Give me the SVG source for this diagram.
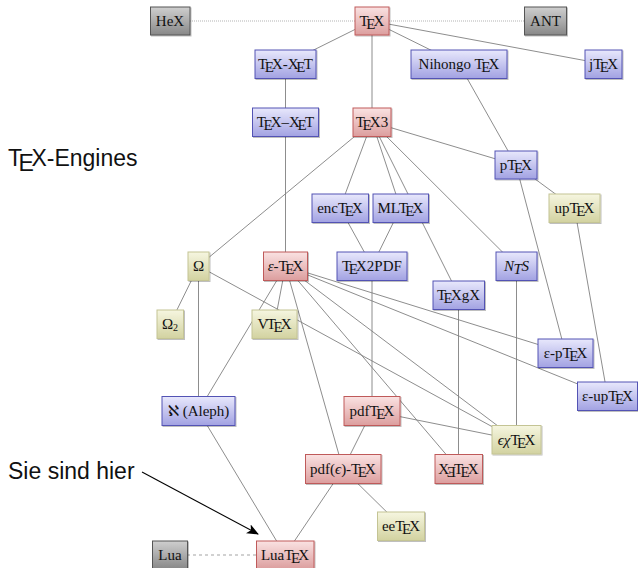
<svg xmlns="http://www.w3.org/2000/svg" width="638" height="568" viewBox="0 0 638 568">
<defs>
<linearGradient id="gr" x1="0" y1="0" x2="0" y2="1"><stop offset="0" stop-color="#fae2e2"/><stop offset="1" stop-color="#dc9e9e"/></linearGradient>
<linearGradient id="gb" x1="0" y1="0" x2="0" y2="1"><stop offset="0" stop-color="#e8e8fc"/><stop offset="1" stop-color="#a2a2e2"/></linearGradient>
<linearGradient id="gy" x1="0" y1="0" x2="0" y2="1"><stop offset="0" stop-color="#f6f6e0"/><stop offset="1" stop-color="#d2d2a0"/></linearGradient>
<linearGradient id="gg" x1="0" y1="0" x2="0" y2="1"><stop offset="0" stop-color="#cfcfcf"/><stop offset="1" stop-color="#888888"/></linearGradient>
<filter id="sh" x="-20%" y="-20%" width="140%" height="150%"><feDropShadow dx="1" dy="1" stdDeviation="0.7" flood-color="#000" flood-opacity="0.25"/></filter>
<marker id="ah" markerWidth="12" markerHeight="10" refX="11" refY="5" orient="auto" markerUnits="userSpaceOnUse"><path d="M0,0 L12,5 L0,10 L3,5 z" fill="#000"/></marker>
</defs>
<style>
.e line{stroke:#808080;stroke-width:0.9}
.e .dot{stroke:#aaaaaa;stroke-dasharray:1 1}
.e .dash{stroke:#999999;stroke-dasharray:3 3}
g.n rect{stroke-width:1;filter:url(#sh)}
g.r rect{fill:url(#gr);stroke:#bf5a5a}
g.b rect{fill:url(#gb);stroke:#5252b4}
g.y rect{fill:url(#gy);stroke:#c4c494}
g.k rect{fill:url(#gg);stroke:#555555}
g.n text{font-family:"Liberation Serif","DejaVu Serif","DejaVu Sans",serif;font-size:15px;text-anchor:middle;fill:#111}
.lbl{font-family:"Liberation Sans","DejaVu Sans",sans-serif;font-size:23px;fill:#111}
</style>
<rect width="638" height="568" fill="#fff"/>
<g class="e" id="connectors">
<line class="dot" x1="190" y1="21" x2="355" y2="21"/>
<line class="dot" x1="389" y1="21" x2="524" y2="21"/>
<line class="dash" x1="187" y1="555" x2="257" y2="555"/>
<line x1="372" y1="21" x2="285.5" y2="64"/>
<line x1="372" y1="21" x2="372" y2="122"/>
<line x1="372" y1="21" x2="459" y2="64"/>
<line x1="372" y1="21" x2="603.5" y2="64"/>
<line x1="285.5" y1="64" x2="285.5" y2="122"/>
<line x1="285.5" y1="122" x2="285.5" y2="266"/>
<line x1="459" y1="64" x2="516" y2="165"/>
<line x1="372" y1="122" x2="516" y2="165"/>
<line x1="372" y1="122" x2="340" y2="208"/>
<line x1="372" y1="122" x2="400.5" y2="208"/>
<line x1="372" y1="122" x2="458.5" y2="295"/>
<line x1="372" y1="122" x2="516.5" y2="266"/>
<line x1="372" y1="122" x2="198.5" y2="266"/>
<line x1="516" y1="165" x2="574.5" y2="208"/>
<line x1="516" y1="165" x2="565.5" y2="353"/>
<line x1="574.5" y1="208" x2="607.5" y2="396"/>
<line x1="340" y1="208" x2="372" y2="266"/>
<line x1="400.5" y1="208" x2="372" y2="266"/>
<line x1="372" y1="266" x2="372" y2="411"/>
<line x1="516.5" y1="266" x2="516.5" y2="440"/>
<line x1="458.5" y1="295" x2="458.5" y2="469"/>
<line x1="198.5" y1="266" x2="170" y2="324"/>
<line x1="198.5" y1="266" x2="198.5" y2="411"/>
<line x1="198.5" y1="266" x2="516.5" y2="440"/>
<line x1="285.5" y1="266" x2="274.5" y2="324"/>
<line x1="285.5" y1="266" x2="198.5" y2="411"/>
<line x1="285.5" y1="266" x2="343" y2="469"/>
<line x1="285.5" y1="266" x2="458.5" y2="469"/>
<line x1="285.5" y1="266" x2="516.5" y2="440"/>
<line x1="285.5" y1="266" x2="565.5" y2="353"/>
<line x1="285.5" y1="266" x2="607.5" y2="396"/>
<line x1="372" y1="411" x2="343" y2="469"/>
<line x1="372" y1="411" x2="516.5" y2="440"/>
<line x1="343" y1="469" x2="285" y2="555"/>
<line x1="343" y1="469" x2="401" y2="526"/>
<line x1="198.5" y1="411" x2="285" y2="555"/>
</g>
<g id="hex" class="n k"><rect x="150.5" y="7" width="39.5" height="28"/><text x="170" y="26">HeX</text></g>
<g id="tex" class="n r"><rect x="355" y="7" width="34" height="28"/><text x="372" y="26">T<tspan dx="-2.5" dy="3.4">E</tspan><tspan dx="-1.9" dy="-3.4">X</tspan></text></g>
<g id="ant" class="n k"><rect x="524.5" y="7" width="42" height="28"/><text x="545.5" y="26">ANT</text></g>
<g id="tex-xet" class="n b"><rect x="255" y="50" width="61" height="28.5"/><text x="285.5" y="69">T<tspan dx="-2.5" dy="3.4">E</tspan><tspan dx="-1.9" dy="-3.4">X-X</tspan><tspan dx="-2.5" dy="3.4">E</tspan><tspan dx="-1.5" dy="-3.4">T</tspan></text></g>
<g id="nihongo" class="n b"><rect x="411" y="50" width="96" height="28.5"/><text x="459" y="69">Nihongo T<tspan dx="-2.5" dy="3.4">E</tspan><tspan dx="-1.9" dy="-3.4">X</tspan></text></g>
<g id="jtex" class="n b"><rect x="585" y="50" width="37" height="28.5"/><text x="603.5" y="69">jT<tspan dx="-2.5" dy="3.4">E</tspan><tspan dx="-1.9" dy="-3.4">X</tspan></text></g>
<g id="tex--xet" class="n b"><rect x="252.5" y="108" width="66" height="28.5"/><text x="285.5" y="127">T<tspan dx="-2.5" dy="3.4">E</tspan><tspan dx="-1.9" dy="-3.4">X–X</tspan><tspan dx="-2.5" dy="3.4">E</tspan><tspan dx="-1.5" dy="-3.4">T</tspan></text></g>
<g id="tex3" class="n r"><rect x="353" y="108" width="38" height="28.5"/><text x="372" y="127">T<tspan dx="-2.5" dy="3.4">E</tspan><tspan dx="-1.9" dy="-3.4">X3</tspan></text></g>
<g id="ptex" class="n b"><rect x="495" y="151" width="42" height="28"/><text x="516" y="170">pT<tspan dx="-2.5" dy="3.4">E</tspan><tspan dx="-1.9" dy="-3.4">X</tspan></text></g>
<g id="uptex" class="n y"><rect x="549" y="194" width="51" height="28.5"/><text x="574.5" y="213">upT<tspan dx="-2.5" dy="3.4">E</tspan><tspan dx="-1.9" dy="-3.4">X</tspan></text></g>
<g id="enctex" class="n b"><rect x="312" y="194" width="56.5" height="28.5"/><text x="340" y="213">encT<tspan dx="-2.5" dy="3.4">E</tspan><tspan dx="-1.9" dy="-3.4">X</tspan></text></g>
<g id="mltex" class="n b"><rect x="373" y="194" width="55.5" height="28.5"/><text x="400.5" y="213">MLT<tspan dx="-2.5" dy="3.4">E</tspan><tspan dx="-1.9" dy="-3.4">X</tspan></text></g>
<g id="omega" class="n y"><rect x="188" y="252" width="21" height="28.5"/><text x="198.5" y="271">Ω</text></g>
<g id="etex" class="n r"><rect x="263.5" y="252" width="44" height="28.5"/><text x="285.5" y="271"><tspan font-style="italic">ε</tspan>-T<tspan dx="-2.5" dy="3.4">E</tspan><tspan dx="-1.9" dy="-3.4">X</tspan></text></g>
<g id="tex2pdf" class="n b"><rect x="337" y="252" width="70" height="28.5"/><text x="372" y="271">T<tspan dx="-2.5" dy="3.4">E</tspan><tspan dx="-1.9" dy="-3.4">X2PDF</tspan></text></g>
<g id="nts" class="n b"><rect x="496" y="252" width="41" height="28.5"/><text x="516.5" y="271" font-style="italic">N<tspan dx="-0.5" dy="3">T</tspan><tspan dx="-0.5" dy="-3">S</tspan></text></g>
<g id="texgx" class="n b"><rect x="433" y="281" width="51.5" height="28.5"/><text x="458.5" y="300">T<tspan dx="-2.5" dy="3.4">E</tspan><tspan dx="-1.9" dy="-3.4">XgX</tspan></text></g>
<g id="omega2" class="n y"><rect x="157" y="310" width="26.5" height="28.5"/><text x="170" y="329">Ω<tspan font-size="10" dy="2">2</tspan></text></g>
<g id="vtex" class="n y"><rect x="252" y="310" width="45" height="28.5"/><text x="274.5" y="329">V<tspan dx="-1.5">T</tspan><tspan dx="-2.5" dy="3.4">E</tspan><tspan dx="-1.9" dy="-3.4">X</tspan></text></g>
<g id="eptex" class="n b"><rect x="538" y="339" width="55" height="28.5"/><text x="565.5" y="358">ε-pT<tspan dx="-2.5" dy="3.4">E</tspan><tspan dx="-1.9" dy="-3.4">X</tspan></text></g>
<g id="euptex" class="n b"><rect x="577.5" y="382" width="60" height="28.5"/><text x="607.5" y="401">ε-upT<tspan dx="-2.5" dy="3.4">E</tspan><tspan dx="-1.9" dy="-3.4">X</tspan></text></g>
<g id="aleph" class="n b"><rect x="162" y="396.5" width="73" height="29"/><text x="198.5" y="416">ℵ (Aleph)</text></g>
<g id="pdftex" class="n r"><rect x="344" y="396.5" width="56" height="29"/><text x="372" y="416">pdfT<tspan dx="-2.5" dy="3.4">E</tspan><tspan dx="-1.9" dy="-3.4">X</tspan></text></g>
<g id="echitex" class="n y"><rect x="492" y="425.5" width="49" height="28.5"/><text x="516.5" y="445"><tspan font-style="italic">ϵχ</tspan>T<tspan dx="-2.5" dy="3.4">E</tspan><tspan dx="-1.9" dy="-3.4">X</tspan></text></g>
<g id="pdfetex" class="n r"><rect x="305.5" y="454.5" width="75.5" height="29"/><text x="343" y="474">pdf(<tspan font-style="italic">ϵ</tspan>)-T<tspan dx="-2.5" dy="3.4">E</tspan><tspan dx="-1.9" dy="-3.4">X</tspan></text></g>
<g id="xetex" class="n r"><rect x="435" y="454.5" width="47.5" height="29"/><text x="458.5" y="474">X<tspan dx="-2.5" dy="3.4">Ǝ</tspan><tspan dx="-1.9" dy="-3.4">T</tspan><tspan dx="-2.5" dy="3.4">E</tspan><tspan dx="-1.9" dy="-3.4">X</tspan></text></g>
<g id="eetex" class="n y"><rect x="377.5" y="512" width="47" height="28.5"/><text x="401" y="531">eeT<tspan dx="-2.5" dy="3.4">E</tspan><tspan dx="-1.9" dy="-3.4">X</tspan></text></g>
<g id="lua" class="n k"><rect x="152.5" y="541" width="35" height="28"/><text x="170" y="560">Lua</text></g>
<g id="luatex" class="n r"><rect x="256.5" y="541" width="57.5" height="28"/><text x="285" y="560">LuaT<tspan dx="-2.5" dy="3.4">E</tspan><tspan dx="-1.9" dy="-3.4">X</tspan></text></g>
<g id="title"><text class="lbl" x="8" y="166">T<tspan dx="-3.5" dy="5">E</tspan><tspan dx="-2.5" dy="-5">X-Engines</tspan></text></g>
<g id="pointer"><text class="lbl" x="8" y="479">Sie sind hier</text><line x1="142" y1="472" x2="258" y2="534" stroke="#000" stroke-width="1.1" marker-end="url(#ah)"/></g>
</svg>
